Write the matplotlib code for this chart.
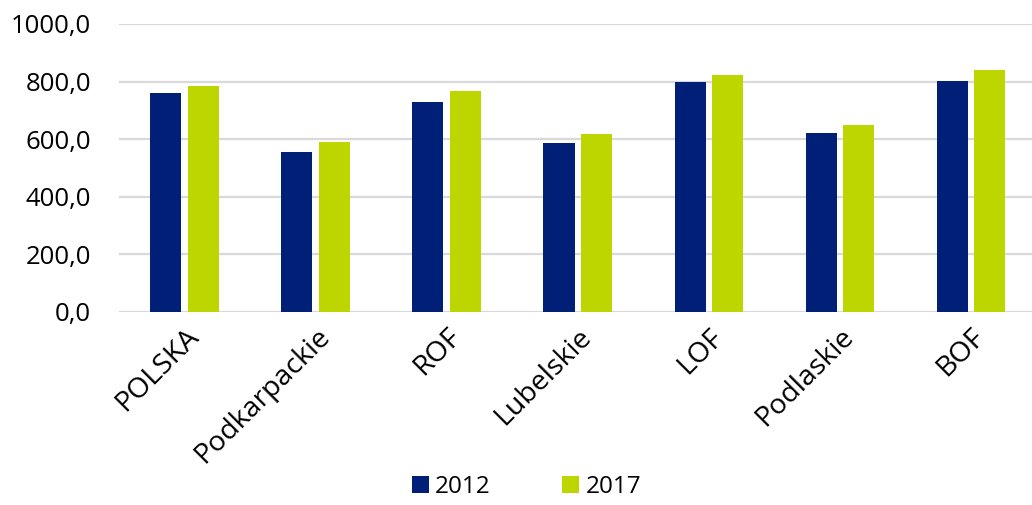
import matplotlib
matplotlib.use("Agg")
import matplotlib.pyplot as plt
import numpy as np

categories = ["POLSKA", "Podkarpackie", "ROF", "Lubelskie", "LOF", "Podlaskie", "BOF"]
values_2012 = [759, 557, 728, 586, 798, 620, 801]
values_2017 = [783, 592, 767, 619, 822, 651, 841]
series_labels = ["2012", "2017"]
yticks = [0, 200, 400, 600, 800, 1000]
ytick_labels = ["0,0", "200,0", "400,0", "600,0", "800,0", "1000,0"]

plt.rcParams['font.family'] = ['Open Sans', 'DejaVu Sans']

fig = plt.figure(figsize=(10.32, 5.05), dpi=100)
ax = fig.add_axes([119/1032, 193/505, 917.5/1032, 288/505])

x = np.arange(len(categories))
w = 0.237
off = 0.143
c1 = "#001F77"
c2 = "#BED600"
ax.bar(x - off, values_2012, w, color=c1, label=series_labels[0], zorder=3)
ax.bar(x + off, values_2017, w, color=c2, label=series_labels[1], zorder=3)

ax.set_xlim(-0.5, len(categories) - 0.5)
ax.set_ylim(0, 1000)
ax.set_yticks(yticks)
ax.set_yticklabels(ytick_labels, fontsize=18.5)
ax.yaxis.grid(True, color="#d9d9d9", linewidth=1.6, zorder=0)
ax.set_axisbelow(True)
for s in ax.spines.values():
    s.set_visible(False)
ax.tick_params(axis='both', length=0)
ax.tick_params(axis='y', pad=20)
ax.set_xticks(x)
ax.set_xticklabels(categories, fontsize=20.5, rotation=45, ha='right', rotation_mode='anchor')
ax.tick_params(axis='x', pad=8)

leg = fig.legend(loc='lower center', bbox_to_anchor=(0.51, -0.032), ncol=2, frameon=False,
                 fontsize=17.5, handlelength=0.7, handleheight=0.7, handletextpad=0.25,
                 columnspacing=2.95)

fig.savefig("out.png", dpi=100)
